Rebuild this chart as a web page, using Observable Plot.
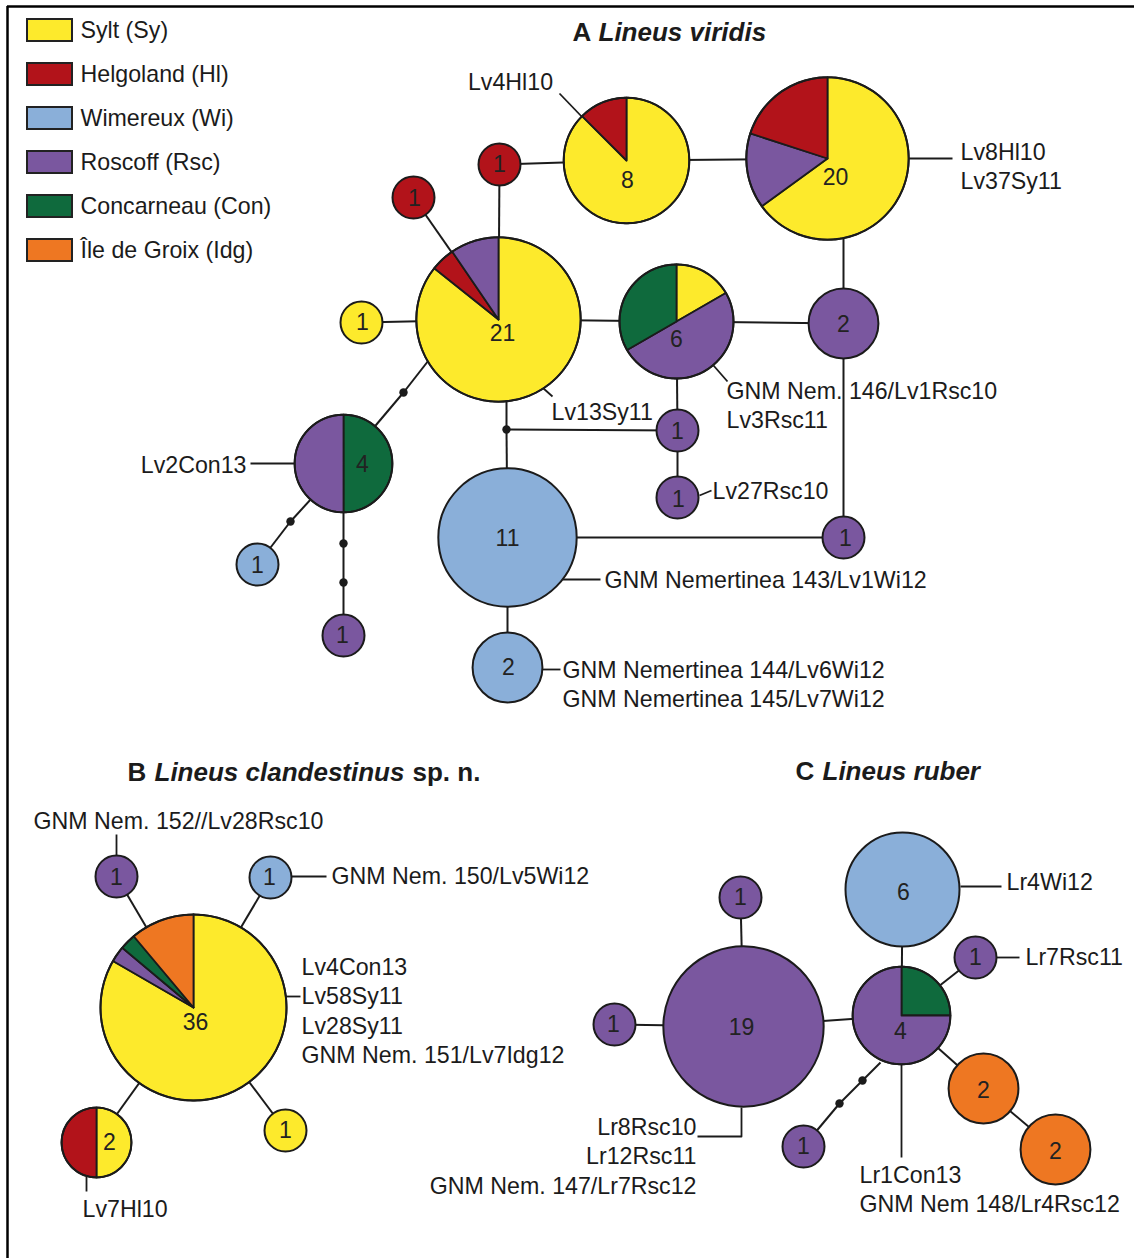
<!DOCTYPE html>
<html><head><meta charset="utf-8">
<script src="https://cdn.jsdelivr.net/npm/d3@7"></script>
<script src="https://cdn.jsdelivr.net/npm/@observablehq/plot@0.6"></script>
<style>html,body{margin:0;padding:0;background:#fff;} #chart svg{display:block;}</style>
</head><body><div id="chart"></div>
<script>
const W = 1134, H = 1258;

// Populations (legend)
const popCodes = ["Sy", "Hl", "Wi", "Rsc", "Con", "Idg"];
const popNames = ["Sylt (Sy)", "Helgoland (Hl)", "Wimereux (Wi)", "Roscoff (Rsc)", "Concarneau (Con)", "Île de Groix (Idg)"];
const popColors = ["#FDEA2C", "#B2131A", "#8AAFD9", "#7A579F", "#0F6A3D", "#EE7722"];

// Haplotypes: id, number of individuals, composition (clockwise from 12 o'clock)
const hapIds = ["a21","a8","a20","aH1","aH2","aY1","a6","aR2","aR1a","aR1b","aR1c","a11","aW2","a4","aW1","aR1d",
                "b36","bR1","bW1","b2","bY1",
                "c19","cR1t","cR1l","c4","c6","cR1r","cO2a","cO2b","cR1bl"];
const hapCount = [21,8,20,1,1,1,6,2,1,1,1,11,2,4,1,1,
                  36,1,1,2,1,
                  19,1,1,4,6,1,2,2,1];
const hapComp = ["Sy:18 Hl:1 Rsc:2","Sy:7 Hl:1","Sy:13 Rsc:3 Hl:4","Hl:1","Hl:1","Sy:1","Sy:1 Rsc:3 Con:2","Rsc:2","Rsc:1","Rsc:1","Rsc:1","Wi:11","Wi:2","Con:2 Rsc:2","Wi:1","Rsc:1",
                 "Sy:30 Rsc:1 Con:1 Idg:4","Rsc:1","Wi:1","Sy:1 Hl:1","Sy:1",
                 "Rsc:19","Rsc:1","Rsc:1","Con:1 Rsc:3","Wi:6","Rsc:1","Idg:2","Idg:2","Rsc:1"];

// Network layout (drawing units)
const hapX = [498,626,827,499,413,361,676,843,677,677,843,507,507,343,257,343,
              193,116,270,96,285,
              743,740,614,901,902,975,983,1055,803];
const hapY = [319,160,158,164,197,322,321,323,430,497,537,537,667,463,564,635,
              1007,876,877,1142,1130,
              1026,897,1024,1015,889,957,1088,1149,1146];
const countDx = [4,1,8,0,1,1,0,0,0,1,2,0,1,19,0,-1, 2,0,-1,13,0, -2,0,-1,-1,1,0,0,0,0];
const countDy = [14,20,19,0,1,0,18,1,1,2,1,1,0,1,1,0, 15,1,0,0,0, 1,0,0,16,3,0,2,2,0];

// Unsampled / missing mutational steps (small black dots) and junctions
const medianIds = ["m1","m2","m3","m4","j1","m5","m6"];
const medianX = [403,290,343,343,506,862,839];
const medianY = [392,521,543,582,429,1080,1103];
// attachment points on circle rims
const rimIds = ["a21s","a21b","c4s","a20b"];
const rimX = [428,506,880,843];
const rimY = [360,400,1062,237];

// Network links
const edgeFrom = ["a21","aH1","a8","a20b","a21","a21","a21","a6","a6","aR1a","aR2","a11","a21b","j1","j1","a11","a21s","m1","a4","m2","a4","m3","m4",
                  "b36","b36","b36","b36",
                  "c19","c19","c19","c4","c4","c4","cO2a","c4s","m5","m6"];
const edgeTo   = ["aH1","a8","a20","aR2","aH2","aY1","a6","aR2","aR1a","aR1b","aR1c","aR1c","j1","aR1a","a11","aW2","m1","a4","m2","aW1","m3","m4","aR1d",
                  "bR1","bW1","b2","bY1",
                  "cR1t","cR1l","c4","c6","cR1r","cO2a","cO2b","m5","m6","cR1bl"];

// Haplotype name labels
const labelText = ["Lv4Hl10","Lv8Hl10\nLv37Sy11","Lv13Sy11","GNM Nem. 146/Lv1Rsc10\nLv3Rsc11","Lv27Rsc10","Lv2Con13",
                   "GNM Nemertinea 143/Lv1Wi12","GNM Nemertinea 144/Lv6Wi12\nGNM Nemertinea 145/Lv7Wi12",
                   "GNM Nem. 152//Lv28Rsc10","GNM Nem. 150/Lv5Wi12","Lv4Con13\nLv58Sy11\nLv28Sy11\nGNM Nem. 151/Lv7Idg12","Lv7Hl10",
                   "Lr4Wi12","Lr7Rsc11","Lr1Con13\nGNM Nem 148/Lr4Rsc12","Lr8Rsc10\nLr12Rsc11\nGNM Nem. 147/Lr7Rsc12"];
const labelX = [510,960,551,726,712,246,604,562,178,331,301,82,1006,1025,859,696];
const labelY = [80,150,410,389,489,463,578,668,819,874,965,1207,880,955,1173,1125];
const labelAnchor = ["middle","start","start","start","start","end","start","start","middle","start","start","start","start","start","start","end"];
const leaderPaths = [
  [[559,93],[584,119]], [[908,158],[952,158]], [[543,388],[552,396]], [[713,365],[727,381]],
  [[699,495],[711,490]], [[250,463],[294,463]], [[562,579],[600,579]], [[542,669],[560,669]],
  [[116,834],[116,855]], [[291,876],[326,876]], [[285,996],[300,996]], [[86,1176],[86,1191]],
  [[960,886],[1001,886]], [[996,957],[1019,957]], [[901,1063],[901,1157]], [[741,1107],[741,1136],[697,1136]]
];

// Panel titles (pieces: upright bold / bold italic)
const titleText = ["A", "Lineus viridis", "B", "Lineus clandestinus", "sp. n.", "C", "Lineus ruber"];
const titleItalic = [false, true, false, true, false, false, true];
const titleX = [572, 598, 127, 154, 412, 795, 822];
const titleY = [32, 32, 772, 772, 772, 771, 771];

// ---- build tables ----
const rOpts = {type: "log", domain: [1, 36], range: [21, 93]};
const rScale = Plot.scale({r: rOpts});
const pos = new Map();
hapIds.forEach((id, i) => pos.set(id, [hapX[i], hapY[i]]));
medianIds.forEach((id, i) => pos.set(id, [medianX[i], medianY[i]]));
rimIds.forEach((id, i) => pos.set(id, [rimX[i], rimY[i]]));

const edges = edgeFrom.map((f, i) => ({x1: pos.get(f)[0], y1: pos.get(f)[1], x2: pos.get(edgeTo[i])[0], y2: pos.get(edgeTo[i])[1]}));
const haps = hapIds.map((id, i) => {
  const comp = hapComp[i].split(" ").map(s => { const [p, k] = s.split(":"); return {pop: p, k: +k}; });
  return {id, n: hapCount[i], x: hapX[i], y: hapY[i], comp, main: comp[0].pop, lx: hapX[i] + countDx[i], ly: hapY[i] + countDy[i]};
});
const medians = medianIds.map((id, i) => ({id, x: medianX[i], y: medianY[i]}));

const wedges = [];
haps.filter(h => h.comp.length > 1).forEach(h => {
  const R = rScale.apply(h.n);
  let a = 0;
  h.comp.forEach((s, k) => {
    const a0 = a, a1 = a + s.k / h.n * 2 * Math.PI; a = a1;
    const wid = h.id + "-" + k;
    wedges.push({wid, pop: s.pop, x: h.x, y: h.y});
    const steps = Math.max(2, Math.ceil((a1 - a0) / (Math.PI / 120)));
    for (let t = 0; t <= steps; t++) {
      const ang = a0 + (a1 - a0) * t / steps;
      wedges.push({wid, pop: s.pop, x: h.x + R * Math.sin(ang), y: h.y - R * Math.cos(ang)});
    }
    wedges.push({wid, pop: s.pop, x: h.x, y: h.y});
  });
});

const leaders = [];
leaderPaths.forEach((p, i) => p.forEach(([x, y]) => leaders.push({lid: i, x, y})));

const LH = 29.5, FS = 23.2;
const labels = labelText.map((t, i) => {
  const n = t.split("\n").length;
  return {text: t, x: labelX[i], y: labelY[i] + (n - 1) * LH / 2, anchor: labelAnchor[i]};
});
const legend = popCodes.map((p, i) => ({pop: p, name: popNames[i], i}));
const titles = titleText.map((t, i) => ({text: t, x: titleX[i], y: titleY[i], italic: titleItalic[i]}));

const ink = "#1b1b1b";
const font = "Liberation Sans, Arial, Helvetica, sans-serif";

const chart = Plot.plot({
  width: W, height: H, margin: 0,
  style: {fontFamily: font, background: "#fff", color: ink},
  x: {domain: [0, W], range: [0, W], axis: null},
  y: {domain: [0, H], range: [0, H], axis: null},
  r: rOpts,
  color: {domain: popCodes, range: popColors},
  marks: [
    Plot.ruleY([6], {x1: 7, x2: W, stroke: "#000", strokeWidth: 2.5}),
    Plot.ruleX([7], {y1: 6, y2: H, stroke: "#000", strokeWidth: 2.5}),
    Plot.link(edges, {x1: "x1", y1: "y1", x2: "x2", y2: "y2", stroke: ink, strokeWidth: 2}),
    Plot.line(leaders, {x: "x", y: "y", z: "lid", stroke: ink, strokeWidth: 1.8, strokeLinecap: "butt"}),
    Plot.dot(haps, {x: "x", y: "y", r: "n", fill: "main", stroke: "none"}),
    Plot.line(wedges, {x: "x", y: "y", z: "wid", fill: "pop", stroke: ink, strokeWidth: 1.8, strokeLinejoin: "round"}),
    Plot.dot(haps, {x: "x", y: "y", r: "n", fill: "none", stroke: ink, strokeWidth: 2}),
    Plot.dot(medians, {x: "x", y: "y", r: 4.2, fill: ink, stroke: "none"}),
    Plot.text(haps, {x: "lx", y: "ly", text: d => String(d.n), fontSize: 23, fill: "#222"}),
    Plot.text(labels.filter(d => d.anchor === "start"), {x: "x", y: "y", text: "text", textAnchor: "start", fontSize: FS, lineHeight: LH / FS, fill: ink}),
    Plot.text(labels.filter(d => d.anchor === "middle"), {x: "x", y: "y", text: "text", textAnchor: "middle", fontSize: FS, lineHeight: LH / FS, fill: ink}),
    Plot.text(labels.filter(d => d.anchor === "end"), {x: "x", y: "y", text: "text", textAnchor: "end", fontSize: FS, lineHeight: LH / FS, fill: ink}),
    Plot.rect(legend, {x1: () => 27, x2: () => 72, y1: d => 19 + 44 * d.i, y2: d => 41 + 44 * d.i, fill: "pop", stroke: "#222", strokeWidth: 2}),
    Plot.text(legend, {x: () => 80, y: d => 30 + 44 * d.i, text: "name", textAnchor: "start", fontSize: FS, fill: ink}),
    Plot.text(titles.filter(d => !d.italic), {x: "x", y: "y", text: "text", textAnchor: "start", fontSize: 26, fontWeight: "bold", fill: ink}),
    Plot.text(titles.filter(d => d.italic), {x: "x", y: "y", text: "text", textAnchor: "start", fontSize: 26, fontWeight: "bold", fontStyle: "italic", fill: ink})
  ]
});
document.getElementById("chart").append(chart);
</script></body></html>
